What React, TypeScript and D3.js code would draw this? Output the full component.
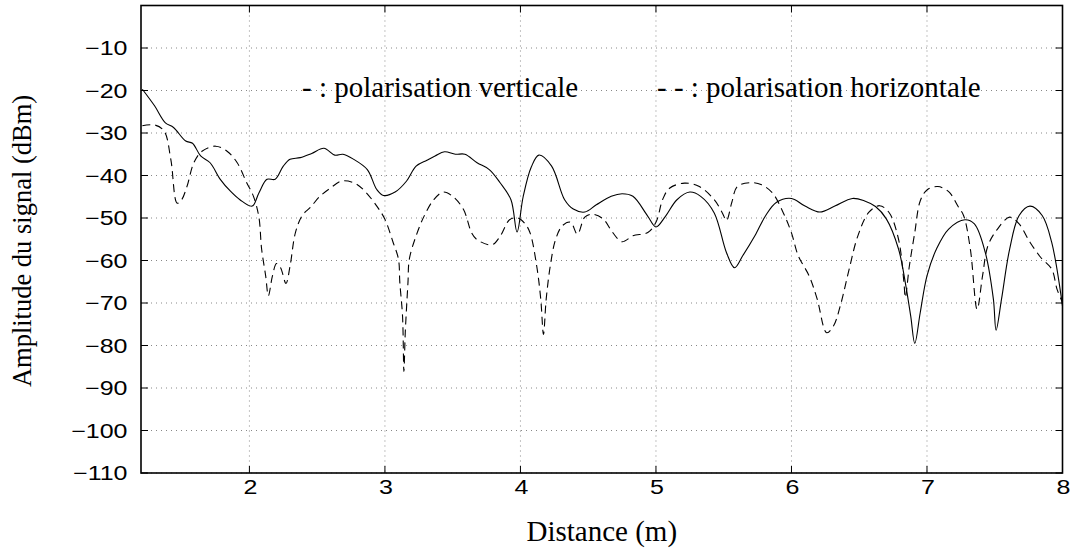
import React, { useRef, useEffect } from 'react'
import * as d3 from 'd3'

// vertical polarisation (solid)
const vertX = [1.21, 1.3, 1.38, 1.44, 1.53, 1.58, 1.64, 1.71, 1.785, 1.86, 1.93, 2.02, 2.07, 2.13, 2.19, 2.25, 2.3, 2.375, 2.46, 2.55, 2.63, 2.69, 2.77, 2.87, 2.94, 2.99, 3.075, 3.16, 3.23, 3.31, 3.37, 3.44, 3.52, 3.59, 3.68, 3.77, 3.85, 3.93, 3.975, 4.02, 4.08, 4.136, 4.23, 4.326, 4.39, 4.475, 4.56, 4.67, 4.75, 4.83, 4.94, 5.0, 5.07, 5.155, 5.25, 5.33, 5.43, 5.52, 5.58, 5.64, 5.73, 5.81, 5.89, 6.0, 6.1, 6.21, 6.32, 6.45, 6.54, 6.62, 6.7, 6.79, 6.84, 6.88, 6.91, 6.95, 7.0, 7.07, 7.16, 7.28, 7.35, 7.43, 7.49, 7.51, 7.55, 7.61, 7.68, 7.76, 7.85, 7.92, 8.0]
const vertY = [-19.7, -23.6, -27.6, -28.7, -31.9, -32.4, -35.4, -37.0, -40.9, -43.7, -45.7, -47.2, -44.1, -40.9, -40.9, -37.8, -36.2, -35.8, -34.8, -33.6, -35.2, -35.0, -36.2, -38.6, -43.3, -44.7, -43.9, -41.3, -37.8, -36.4, -35.4, -34.4, -35.0, -35.0, -37.0, -38.6, -41.7, -45.7, -53.3, -45.0, -38.0, -35.2, -37.8, -45.7, -47.9, -48.6, -46.9, -44.9, -44.3, -44.9, -49.6, -52.1, -49.6, -45.7, -43.9, -44.9, -48.8, -58.1, -61.7, -58.9, -54.2, -49.4, -46.3, -45.4, -47.2, -48.6, -47.2, -45.4, -46.0, -47.3, -50.2, -57.3, -65.2, -73.1, -79.5, -72.3, -63.6, -57.3, -52.6, -50.4, -51.4, -58.1, -69.1, -76.4, -69.1, -57.3, -49.4, -47.2, -49.4, -55.7, -70.7]

// horizontal polarisation (dashed)
const horX = [1.21, 1.3, 1.37, 1.42, 1.467, 1.5, 1.54, 1.59, 1.65, 1.75, 1.835, 1.91, 1.98, 2.03, 2.07, 2.09, 2.12, 2.14, 2.17, 2.2, 2.23, 2.27, 2.3, 2.34, 2.39, 2.45, 2.52, 2.6, 2.68, 2.77, 2.84, 2.94, 3.0, 3.06, 3.1, 3.11, 3.13, 3.14, 3.15, 3.17, 3.18, 3.23, 3.29, 3.36, 3.43, 3.5, 3.58, 3.64, 3.68, 3.79, 3.85, 3.92, 3.98, 4.03, 4.07, 4.12, 4.15, 4.17, 4.19, 4.22, 4.26, 4.31, 4.37, 4.42, 4.475, 4.53, 4.61, 4.68, 4.75, 4.83, 4.94, 5.0, 5.05, 5.1, 5.21, 5.32, 5.43, 5.49, 5.52, 5.56, 5.6, 5.7, 5.78, 5.86, 5.94, 6.0, 6.05, 6.13, 6.19, 6.26, 6.31, 6.36, 6.42, 6.49, 6.57, 6.65, 6.72, 6.79, 6.83, 6.84, 6.87, 6.91, 6.95, 7.0, 7.08, 7.16, 7.23, 7.27, 7.32, 7.37, 7.41, 7.45, 7.52, 7.61, 7.68, 7.76, 7.84, 7.92, 7.96, 8.0]
const horY = [-28.3, -28.1, -29.5, -36.2, -46.5, -45.7, -42.5, -37.0, -34.3, -33.1, -34.3, -37.0, -41.7, -44.9, -49.8, -57.3, -63.6, -68.3, -63.6, -60.7, -61.7, -65.4, -61.3, -53.4, -49.4, -47.5, -44.9, -42.9, -41.3, -41.7, -43.3, -47.2, -50.3, -55.7, -59.7, -65.2, -73.1, -86.1, -77.0, -65.2, -59.7, -54.2, -49.5, -45.7, -43.9, -44.9, -48.0, -53.5, -55.1, -56.3, -54.3, -50.4, -50.0, -51.2, -53.4, -61.3, -69.1, -77.4, -69.1, -61.3, -55.0, -51.8, -51.0, -53.8, -49.8, -49.1, -50.2, -53.4, -55.6, -54.2, -53.4, -51.0, -45.6, -43.0, -41.8, -42.6, -45.7, -48.8, -50.6, -46.3, -42.6, -41.7, -42.2, -44.1, -48.8, -53.5, -58.9, -63.6, -69.1, -77.0, -75.4, -70.7, -62.8, -54.2, -48.7, -47.1, -48.7, -55.0, -65.2, -68.7, -61.3, -53.4, -46.0, -43.4, -42.6, -43.8, -47.3, -49.4, -57.3, -71.5, -63.6, -56.5, -52.6, -49.8, -51.4, -55.7, -59.3, -62.0, -66.8, -69.9]

const xTicks = [2, 3, 4, 5, 6, 7, 8]
const yTicks = [-10, -20, -30, -40, -50, -60, -70, -80, -90, -100, -110]

const App = () => {
  const svgRef = useRef<SVGSVGElement>(null)

  useEffect(() => {
    const svg = d3.select(svgRef.current)
    svg.selectAll('*').remove()

    const plot = { left: 141, right: 1062.5, top: 5.5, bottom: 473 }

    const x = d3.scaleLinear().domain([1.2, 8]).range([plot.left, plot.right])
    const y = d3.scaleLinear().domain([-110, 0]).range([plot.bottom, plot.top])

    const g = svg.append('g')

    // grid
    g.selectAll('.gx')
      .data(xTicks)
      .enter()
      .append('line')
      .attr('x1', d => x(d)).attr('x2', d => x(d))
      .attr('y1', plot.top).attr('y2', plot.bottom)
      .attr('stroke', '#888').attr('stroke-width', 1).attr('stroke-dasharray', '1,4')

    g.selectAll('.gy')
      .data(yTicks)
      .enter()
      .append('line')
      .attr('x1', plot.left).attr('x2', plot.right)
      .attr('y1', d => y(d)).attr('y2', d => y(d))
      .attr('stroke', '#888').attr('stroke-width', 1).attr('stroke-dasharray', '1,4')

    // inward ticks
    const tl = 7
    xTicks.forEach(t => {
      g.append('line').attr('x1', x(t)).attr('x2', x(t)).attr('y1', plot.bottom).attr('y2', plot.bottom - tl).attr('stroke', '#000')
      g.append('line').attr('x1', x(t)).attr('x2', x(t)).attr('y1', plot.top).attr('y2', plot.top + tl).attr('stroke', '#000')
    })
    yTicks.forEach(t => {
      g.append('line').attr('x1', plot.left).attr('x2', plot.left + tl).attr('y1', y(t)).attr('y2', y(t)).attr('stroke', '#000')
      g.append('line').attr('x1', plot.right).attr('x2', plot.right - tl).attr('y1', y(t)).attr('y2', y(t)).attr('stroke', '#000')
    })

    const line = d3.line<[number, number]>()
      .x(d => x(d[0]))
      .y(d => y(d[1]))
      .curve(d3.curveCatmullRom.alpha(0.5))

    const horData = horX.map((v, i) => [v, horY[i]] as [number, number])
    const vertData = vertX.map((v, i) => [v, vertY[i]] as [number, number])

    g.append('path')
      .attr('d', line(horData))
      .attr('fill', 'none').attr('stroke', '#000').attr('stroke-width', 1.1)
      .attr('stroke-dasharray', '8,5')

    g.append('path')
      .attr('d', line(vertData))
      .attr('fill', 'none').attr('stroke', '#000').attr('stroke-width', 1.1)

    // frame
    g.append('rect')
      .attr('x', plot.left).attr('y', plot.top)
      .attr('width', plot.right - plot.left).attr('height', plot.bottom - plot.top)
      .attr('fill', 'none').attr('stroke', '#000').attr('stroke-width', 1.6)

    // tick labels (wide sans digits, as in the original)
    g.selectAll('.xl')
      .data(xTicks)
      .enter()
      .append('text')
      .attr('transform', d => `translate(${x(d) + 1},${plot.bottom + 21}) scale(1.25,1)`)
      .attr('text-anchor', 'middle')
      .attr('font-family', 'Liberation Sans, Arial, sans-serif').attr('font-size', 20)
      .text(d => d)

    g.selectAll('.yl')
      .data(yTicks)
      .enter()
      .append('text')
      .attr('transform', d => `translate(${plot.left - 13.5},${y(d) + 7}) scale(1.25,1)`)
      .attr('text-anchor', 'end')
      .attr('font-family', 'Liberation Sans, Arial, sans-serif').attr('font-size', 20)
      .text(d => '\u2212' + Math.abs(d))

    // axis titles
    g.append('text')
      .attr('x', (plot.left + plot.right) / 2).attr('y', 541)
      .attr('text-anchor', 'middle')
      .attr('font-family', 'Liberation Serif, Times New Roman, serif').attr('font-size', 29)
      .text('Distance (m)')

    g.append('text')
      .attr('transform', `translate(31, 241) rotate(-90)`)
      .attr('text-anchor', 'middle')
      .attr('font-family', 'Liberation Serif, Times New Roman, serif').attr('font-size', 26.5)
      .text('Amplitude du signal (dBm)')

    // legend texts
    g.append('text')
      .attr('x', 302).attr('y', 97)
      .attr('font-family', 'Liberation Serif, Times New Roman, serif').attr('font-size', 29)
      .text('- : polarisation verticale')

    g.append('text')
      .attr('x', 657).attr('y', 97)
      .attr('font-family', 'Liberation Serif, Times New Roman, serif').attr('font-size', 29)
      .text('- - : polarisation horizontale')
  }, [])

  return (
    <svg ref={svgRef} width={1077} height={549}
      style={{ position: 'absolute', left: 0, top: 0, background: '#fff' }} />
  )
}

export default App
